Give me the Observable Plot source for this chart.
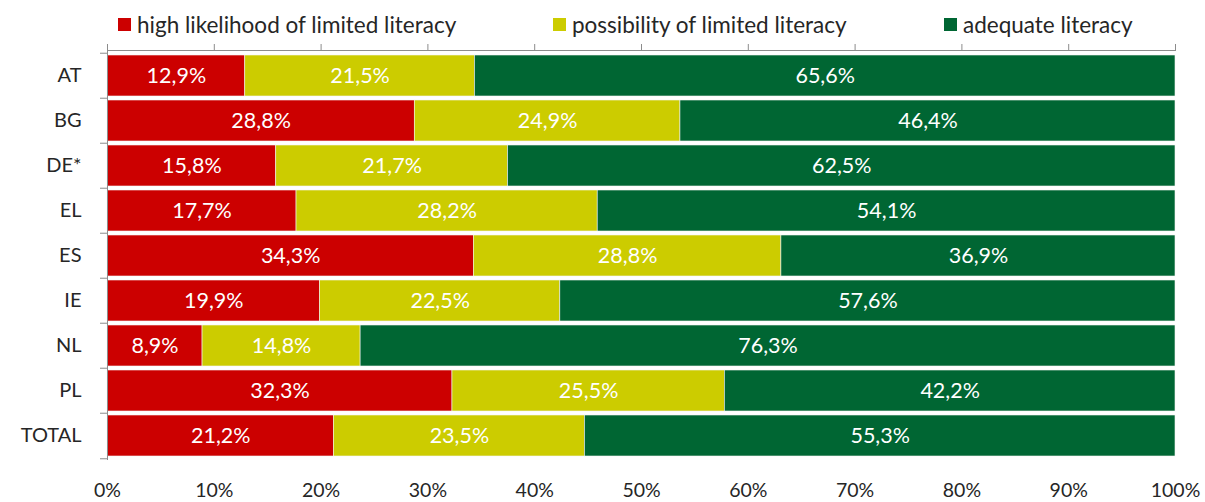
<!DOCTYPE html>
<html>
<head>
<meta charset="utf-8">
<script src="https://cdn.jsdelivr.net/npm/d3@7"></script>
<script src="https://cdn.jsdelivr.net/npm/@observablehq/plot@0.6"></script>
<style>
  body { margin: 0; background: #fff; font-family: Lato, "Open Sans", sans-serif; }
  #legend { position: relative; height: 43px; width: 1205px; font-size: 22.5px; color: #262626; }
  .item { position: absolute; top: 11px; display: flex; align-items: center; white-space: nowrap; }
  .sw { width: 13px; height: 13px; margin-right: 6px; }
</style>
</head>
<body>
<div id="legend"></div>
<div id="chart"></div>
<script>
const countries = ["AT", "BG", "DE*", "EL", "ES", "IE", "NL", "PL", "TOTAL"];
const categories = ["high likelihood of limited literacy", "possibility of limited literacy", "adequate literacy"];
const colors = ["#CC0000", "#CCCC00", "#006633"];
const highLikelihood = [12.9, 28.8, 15.8, 17.7, 34.3, 19.9, 8.9, 32.3, 21.2];
const possibility    = [21.5, 24.9, 21.7, 28.2, 28.8, 22.5, 14.8, 25.5, 23.5];
const adequate       = [65.6, 46.4, 62.5, 54.1, 36.9, 57.6, 76.3, 42.2, 55.3];
const xTicks = [0, 0.1, 0.2, 0.3, 0.4, 0.5, 0.6, 0.7, 0.8, 0.9, 1];

const series = [highLikelihood, possibility, adequate];
const data = [];
countries.forEach((c, i) => {
  categories.forEach((cat, j) => {
    data.push({country: c, cat, value: series[j][i]});
  });
});

// legend (HTML)
const legendX = [118, 553, 944];
const legend = document.getElementById("legend");
categories.forEach((cat, j) => {
  const it = document.createElement("div");
  it.className = "item";
  it.style.left = legendX[j] + "px";
  it.innerHTML = `<span class="sw" style="background:${colors[j]}"></span><span>${cat}</span>`;
  legend.appendChild(it);
});

const W = 1205, H = 459;
const mTop = 7, mBottom = 42, mLeft = 107, mRight = 30;
const step = (H - mTop - mBottom) / countries.length;
const fmt = v => v.toFixed(1).replace(".", ",") + "%";
const axisColor = "#8c8c8c";

const chart = Plot.plot({
  width: W,
  height: H,
  marginTop: mTop,
  marginBottom: mBottom,
  marginLeft: mLeft,
  marginRight: mRight,
  style: {fontFamily: "Lato, 'Open Sans', sans-serif", fontSize: "19px", color: "#262626", background: "#fff"},
  x: {domain: [0, 1], ticks: xTicks, label: null},
  y: {domain: countries, paddingInner: 0.1, paddingOuter: 0.05, label: null},
  color: {domain: categories, range: colors},
  marks: [
    Plot.barX(data, Plot.stackX({
      x: "value", y: "country", fill: "cat", z: "cat", offset: "normalize",
      stroke: "#f4f4f4", strokeWidth: 0.6
    })),
    Plot.text(data, Plot.stackX({
      x: "value", y: "country", z: "cat", offset: "normalize",
      text: d => fmt(d.value), fill: "white", fontSize: 21.5
    })),
    // top axis: tick marks only, plus top line
    Plot.axisX(xTicks, {anchor: "top", tickSize: 7, tickFormat: () => "", stroke: axisColor}),
    Plot.frame({anchor: "top", stroke: axisColor}),
    // bottom labels
    Plot.axisX(xTicks, {anchor: "bottom", tickSize: 0, tickPadding: 23, tickFormat: d => Math.round(d * 100) + "%", fill: "#262626", fontSize: 19.5, label: null}),
    // y axis line
    Plot.ruleX([0], {stroke: axisColor}),
    // y tick marks at band boundaries
    Plot.axisY({tickSize: 7, tickFormat: () => "", dy: -step / 2, stroke: axisColor, label: null}),
    Plot.axisY(["TOTAL"], {tickSize: 7, tickFormat: () => "", dy: step / 2, stroke: axisColor, label: null}),
    // y labels
    Plot.axisY({tickSize: 0, tickPadding: 26, fill: "#262626", fontSize: 20, label: null})
  ]
});
document.getElementById("chart").appendChild(chart);
</script>
</body>
</html>
